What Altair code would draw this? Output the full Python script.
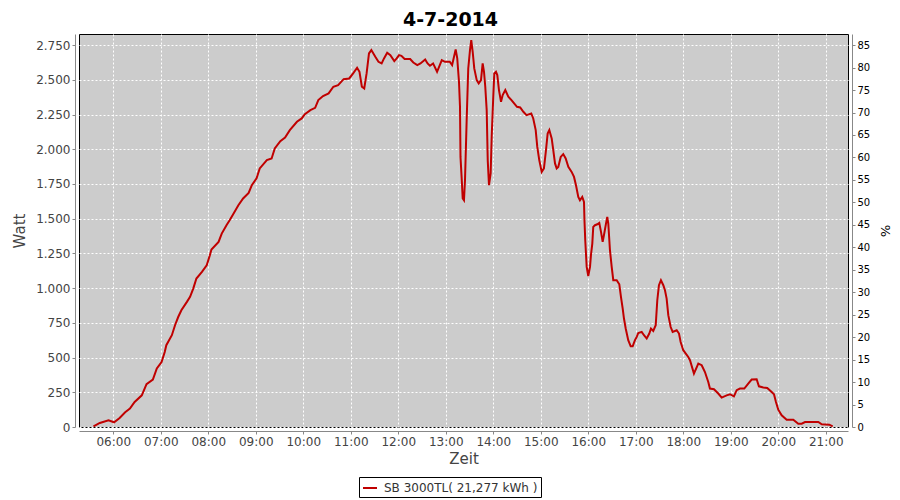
import altair as alt
import pandas as pd

TITLE = "4-7-2014"
SERIES = "SB 3000TL( 21,277 kWh )"

times = [
    "05:35:00", "05:43:00", "05:54:00", "06:01:00", "06:08:00", "06:15:00", "06:21:00", "06:27:00",
    "06:36:00", "06:42:00", "06:50:00", "06:55:00", "07:01:00", "07:05:00", "07:07:00", "07:14:00",
    "07:18:00", "07:22:00", "07:26:00", "07:33:00", "07:37:00", "07:41:00", "07:45:00", "07:52:00",
    "07:58:00", "08:02:00", "08:04:00", "08:13:00", "08:17:00", "08:23:00", "08:27:00", "08:32:00",
    "08:38:00", "08:44:00", "08:51:00", "08:55:00", "09:01:00", "09:05:00", "09:14:00", "09:20:00",
    "09:24:00", "09:31:00", "09:37:00", "09:43:00", "09:52:00", "09:58:00", "10:02:00", "10:09:00",
    "10:15:00", "10:19:00", "10:25:00", "10:32:00", "10:38:00", "10:44:00", "10:51:00", "10:58:00",
    "11:03:00", "11:08:00", "11:11:00", "11:14:00", "11:17:00", "11:20:00", "11:23:00", "11:26:00",
    "11:31:00", "11:35:00", "11:39:00", "11:42:00", "11:46:00", "11:50:00", "11:55:00", "11:58:00",
    "12:01:00", "12:04:00", "12:08:00", "12:15:00", "12:19:00", "12:24:00", "12:28:00", "12:34:00",
    "12:37:00", "12:40:00", "12:44:00", "12:49:00", "12:55:00", "12:59:00", "13:05:00", "13:08:00",
    "13:12:30", "13:14:30", "13:16:42", "13:17:58", "13:18:36", "13:20:06", "13:21:24", "13:23:00",
    "13:24:18", "13:26:24", "13:28:24", "13:30:36", "13:32:12", "13:34:00", "13:36:00", "13:39:06",
    "13:41:36", "13:44:30", "13:46:36", "13:48:18", "13:49:54", "13:51:42", "13:53:00", "13:54:36",
    "13:56:42", "13:58:00", "14:00:00", "14:01:18", "14:03:24", "14:05:06", "14:07:12", "14:09:48",
    "14:11:54", "14:15:12", "14:19:00", "14:23:00", "14:30:00", "14:34:00", "14:38:00", "14:42:00",
    "14:48:00", "14:50:30", "14:53:36", "14:55:36", "14:58:06", "15:01:12", "15:04:00", "15:06:36",
    "15:08:42", "15:10:48", "15:13:48", "15:15:48", "15:18:00", "15:20:06", "15:22:06", "15:25:12",
    "15:28:24", "15:31:30", "15:34:48", "15:39:00", "15:42:00", "15:44:30", "15:47:24", "15:49:30",
    "15:52:24", "15:54:36", "15:55:12", "15:56:12", "15:58:00", "16:00:00", "16:02:12", "16:03:24",
    "16:05:06", "16:06:18", "16:08:30", "16:11:24", "16:13:54", "16:16:06", "16:18:12", "16:20:12",
    "16:22:24", "16:24:00", "16:25:18", "16:27:24", "16:29:36", "16:31:36", "16:35:54", "16:39:12",
    "16:41:18", "16:43:30", "16:45:06", "16:47:18", "16:50:30", "16:53:36", "16:56:06", "16:59:00",
    "17:01:12", "17:03:12", "17:07:30", "17:10:24", "17:13:48", "17:17:06", "17:19:12", "17:22:06",
    "17:25:12", "17:27:12", "17:29:18", "17:31:48", "17:34:48", "17:36:54", "17:39:00", "17:41:06",
    "17:44:06", "17:46:36", "17:51:42", "17:54:36", "17:56:42", "18:00:00", "18:06:18", "18:08:30",
    "18:13:30", "18:19:00", "18:23:18", "18:27:24", "18:31:36", "18:33:42", "18:38:48", "18:44:12",
    "18:48:30", "18:54:48", "18:59:00", "19:04:00", "19:07:30", "19:11:36", "19:17:06", "19:22:06",
    "19:26:24", "19:32:42", "19:35:36", "19:41:06", "19:46:06", "19:51:42", "19:54:36", "19:57:06",
    "20:00:00", "20:04:18", "20:10:36", "20:19:00", "20:25:18", "20:29:36", "20:33:48", "20:50:36",
    "20:54:54", "21:04:30", "21:08:48",
]

watts = [
    5, 29, 48, 34, 65, 106, 132, 180,
    228, 308, 341, 421, 468, 540, 589, 661,
    733, 792, 841, 901, 937, 997, 1069, 1117,
    1165, 1237, 1278, 1333, 1393, 1453, 1489, 1537,
    1597, 1646, 1686, 1741, 1790, 1862, 1922, 1934,
    2006, 2058, 2085, 2138, 2198, 2222, 2253, 2282,
    2298, 2354, 2383, 2402, 2450, 2462, 2505, 2510,
    2546, 2587, 2558, 2450, 2438, 2546, 2690, 2714,
    2666, 2630, 2618, 2654, 2695, 2678, 2635, 2654,
    2678, 2673, 2650, 2650, 2625, 2606, 2618, 2647,
    2618, 2601, 2618, 2558, 2642, 2630, 2630, 2606,
    2719, 2654, 2486, 2306, 1945, 1790, 1646, 1633,
    1777, 2210, 2582, 2714, 2786, 2702, 2582, 2498,
    2474, 2498, 2618, 2558, 2450, 2282, 1922, 1741,
    1826, 2090, 2378, 2546, 2558, 2534, 2426, 2342,
    2390, 2426, 2378, 2354, 2306, 2301, 2270, 2246,
    2258, 2222, 2138, 2017, 1922, 1837, 1862, 1994,
    2114, 2138, 2078, 1994, 1898, 1862, 1873, 1945,
    1965, 1934, 1873, 1837, 1801, 1741, 1657, 1633,
    1657, 1621, 1489, 1345, 1153, 1086, 1153, 1237,
    1321, 1441, 1453, 1460, 1470, 1405, 1333, 1393,
    1465, 1513, 1465, 1273, 1153, 1057, 1057, 1028,
    937, 853, 781, 709, 625, 581, 581, 625,
    649, 677, 685, 661, 637, 673, 709, 692,
    733, 913, 1021, 1057, 1021, 985, 925, 805,
    720, 685, 697, 673, 612, 553, 504, 481,
    385, 457, 445, 396, 324, 277, 272, 241,
    212, 228, 236, 221, 265, 277, 277, 313,
    342, 344, 293, 284, 281, 252, 236, 180,
    125, 84, 53, 53, 24, 24, 36, 36,
    19, 17, 5,
]

hour_ticks = list(range(6, 22))
watt_ticks = list(range(0, 2751, 250))
pct_ticks = list(range(0, 86, 5))

DAY = "2014-07-04T"
df = pd.DataFrame({"t": [DAY + t for t in times], "watt": watts})
df["series"] = SERIES

FONT = "DejaVu Sans"
x_domain = [
    alt.DateTime(year=2014, month=7, date=4, hours=5, minutes=16, seconds=42),
    alt.DateTime(year=2014, month=7, date=4, hours=21, minutes=28, seconds=6),
]
x_values = [alt.DateTime(year=2014, month=7, date=4, hours=h) for h in hour_ticks]

x_enc = alt.X(
    "t:T",
    scale=alt.Scale(domain=x_domain),
    axis=alt.Axis(
        title="Zeit", values=x_values, format="%H:%M", offset=4,
        grid=True, gridColor="white", gridDash=[2, 2], gridWidth=1,
        labelFontSize=12, titleFontSize=15, titlePadding=4, labelPadding=2,
        tickSize=3, labelFlush=False,
    ),
)

line = alt.Chart(df).mark_line(strokeWidth=2, interpolate="linear").encode(
    x=x_enc,
    y=alt.Y(
        "watt:Q",
        scale=alt.Scale(domain=[0, 2830], nice=False, zero=False),
        axis=alt.Axis(
            title="Watt", values=watt_ticks, offset=4,
            labelExpr="replace(format(datum.value, ','), ',', '.')",
            grid=True, gridColor="white", gridDash=[2, 2], gridWidth=1,
            labelFontSize=12, titleFontSize=15, titlePadding=8, labelPadding=2,
            tickSize=3, labelFlush=False,
        ),
    ),
    color=alt.Color(
        "series:N",
        scale=alt.Scale(range=["#C00000"]),
        legend=alt.Legend(
            title=None, orient="none", legendX=280, legendY=443,
            strokeColor="black", padding=3, symbolType="stroke",
            symbolStrokeWidth=2, symbolSize=196, labelFontSize=12,
            labelColor="#333333", labelFont=FONT, labelOffset=6,
        ),
    ),
)

right = alt.Chart(df).transform_calculate(
    pct="datum.watt * 85 / 2750"
).mark_line(opacity=0).encode(
    x=alt.X("t:T", scale=alt.Scale(domain=x_domain)),
    y=alt.Y(
        "pct:Q",
        scale=alt.Scale(domain=[0, 2830 * 85 / 2750], nice=False, zero=False),
        axis=alt.Axis(
            title="%", orient="right", values=pct_ticks, offset=4, grid=False,
            labelFontSize=10, labelColor="black", titleFontSize=13,
            titleColor="black", titlePadding=8, labelPadding=2, tickSize=3,
            labelFlush=False,
        ),
    ),
)

chart = alt.layer(line, right).resolve_scale(y="independent").properties(
    width=769,
    height=393,
    padding={"left": 71, "top": 26, "right": 44, "bottom": 72},
    autosize=alt.AutoSizeParams(type="none"),
    title=alt.TitleParams(
        TITLE, fontSize=19, font=FONT, fontWeight="bold", anchor="middle",
        frame="group", dx=-13, offset=4, color="black",
    ),
).configure_view(
    fill="#CCCCCC", stroke="black", strokeWidth=1,
).configure_axis(
    domainColor="#888888", tickColor="#888888", labelColor="#444444",
    titleColor="#444444", labelFont=FONT, titleFont=FONT,
    titleFontWeight="normal",
)

chart.save("out.html", embed_options={"renderer": "svg", "actions": False})
